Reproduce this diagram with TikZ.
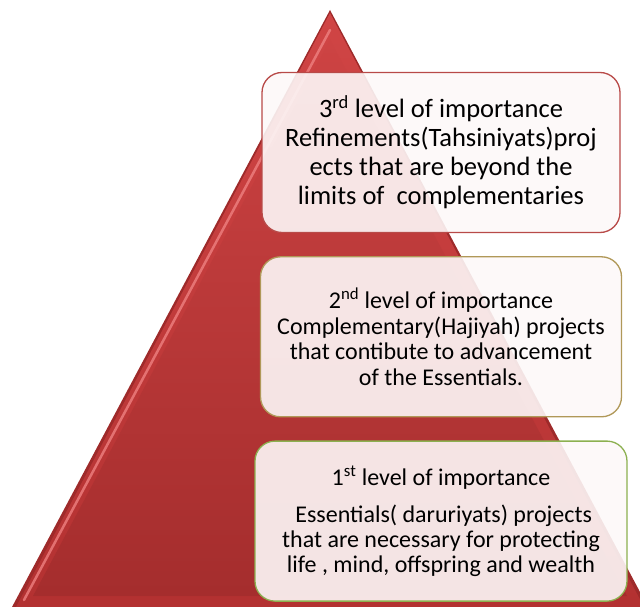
\documentclass[tikz,border=0pt]{standalone}
\usepackage{fontspec}
\setmainfont{Carlito}
\usetikzlibrary{positioning}

\definecolor{pyrdark}{HTML}{9E2A2A}
\definecolor{pyrtop}{HTML}{D04545}
\definecolor{pyrbody}{HTML}{B33131}
\definecolor{pyrshine}{HTML}{EE8080}
\definecolor{boxfill}{HTML}{FDF8F8}
\definecolor{edgethree}{HTML}{B84A48}
\definecolor{edgetwo}{HTML}{B09858}
\definecolor{edgeone}{HTML}{8CB050}

\tikzset{
  levelbox/.style={draw, line width=1.3pt, rounded corners=20pt,
    fill=boxfill, fill opacity=0.9, text opacity=1, align=center,
    minimum height=160pt, inner sep=4pt}
}

\begin{document}
\begin{tikzpicture}[x=1pt, y=-1pt]
  \useasboundingbox (0,0) rectangle (640,607);
  \clip (0,0) rectangle (640,607);

  % --- Pyramid with bevelled edge ---
  \fill[pyrdark] (330,10) -- (12,607) -- (648,607) -- cycle;
  \shade[top color=pyrtop, bottom color=pyrbody]
    (330,13) -- (16,607) -- (644,607) -- cycle;
  \draw[pyrshine, line width=2.5pt, opacity=0.8, line cap=round]
    (330,30) -- (24,600);
  \shade[top color=pyrtop!90!pyrbody, bottom color=pyrbody!92!black]
    (330,40) -- (33,596) -- (627,596) -- cycle;

  % --- Levels, top to bottom ---
  \node[levelbox, draw=edgethree, minimum width=358pt,
        font={\fontsize{26.5}{29}\selectfont}] (L3) at (441,152.5)
    {3\textsuperscript{rd} level of importance\\
     Refinements(Tahsiniyats)proj\\
     ects that are beyond the\\
     limits of\ \ complementaries};
  \node[levelbox, draw=edgetwo, minimum width=361pt,
        font={\fontsize{24}{25.5}\selectfont}] (L2) [below=23pt of L3]
    {2\textsuperscript{nd} level of importance\\
     Complementary(Hajiyah) projects\\
     that contibute to advancement\\
     of the Essentials.};
  \node[levelbox, draw=edgeone, minimum width=372pt,
        font={\fontsize{24}{25}\selectfont}] (L1) [below=23pt of L2]
    {1\textsuperscript{st} level of importance\\[12pt]
     \ Essentials( daruriyats) projects\\
     that are necessary for protecting\\
     life , mind, offspring and wealth};
\end{tikzpicture}
\end{document}
